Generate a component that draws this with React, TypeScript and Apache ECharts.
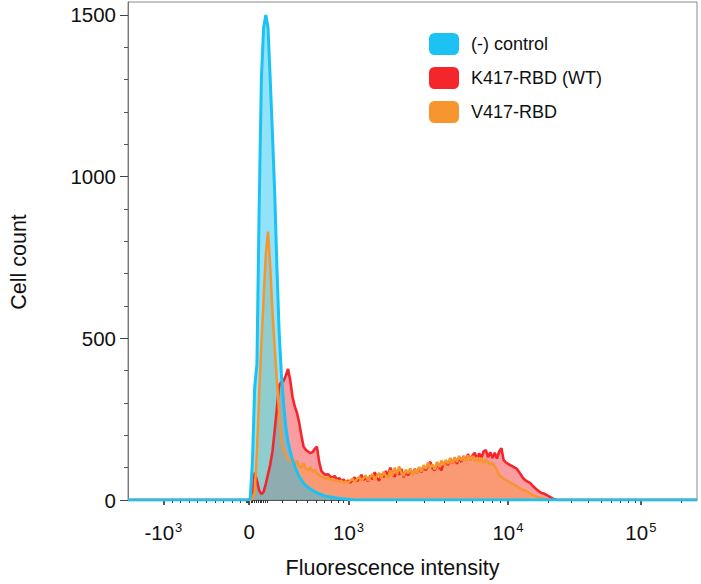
import React, { useEffect, useRef } from "react";
import * as echarts from "echarts";

// ---- Data: histogram counts per display channel (256 channels across the x range) ----
const CHANNEL_MAX = 256;

const CONTROL_START = 54;
const CONTROL_COUNTS = [
  0, 5, 120, 350, 420, 900, 1300, 1460, 1500, 1460, 1300, 1130, 950, 720, 520, 390, 300, 225, 180, 150,
  125, 105, 88, 72, 62, 52, 45, 40, 34, 30, 26, 22, 20, 17, 14, 12, 11, 9, 9, 7,
  6, 5, 4, 3, 3, 2, 1, 1, 0,
];

const K417_START = 54;
const K417_COUNTS = [
  0, 0, 20, 85, 60, 30, 18, 25, 50, 80,
  110, 150, 215, 285, 355, 365, 368, 385, 405, 370,
  320, 290, 270, 240, 200, 165, 155, 150, 145, 148,
  158, 165, 118, 90, 82, 78, 80, 72, 70, 74,
  64, 68, 60, 63, 56, 60, 54, 62, 70, 58,
  66, 78, 62, 70, 58, 76, 64, 86, 68, 60,
  80, 70, 90, 74, 100, 80, 72, 92, 78, 96,
  70, 88, 76, 92, 80, 96, 84, 100, 86, 104,
  92, 110, 118, 98, 92, 112, 100, 92, 114, 118,
  108, 128, 114, 130, 112, 132, 118, 136, 122, 142,
  124, 138, 146, 126, 144, 130, 150, 154, 132, 148,
  130, 146, 128, 150, 160, 124, 116, 112, 108, 104,
  100, 96, 86, 76, 66, 60, 56, 52, 44, 38,
  32, 26, 22, 20, 17, 13, 9, 5, 2, 0,
];

const V417_START = 54;
const V417_COUNTS = [
  0, 0, 5, 25, 150, 320, 480, 620, 760, 830,
  720, 580, 470, 370, 270, 185, 155, 140, 125, 122,
  118, 108, 122, 104, 100, 114, 96, 92, 102, 86,
  94, 82, 78, 70, 72, 66, 70, 62, 66, 58,
  62, 56, 60, 52, 58, 54, 60, 66, 56, 64,
  72, 60, 68, 76, 60, 72, 80, 62, 74, 84,
  66, 88, 74, 70, 92, 76, 100, 80, 104, 84,
  74, 94, 82, 98, 76, 94, 84, 102, 88, 108,
  96, 116, 100, 110, 94, 118, 102, 122, 108, 124,
  112, 130, 114, 132, 118, 136, 122, 134, 120, 138,
  124, 136, 120, 132, 118, 130, 114, 126, 118, 110,
  114, 104, 94, 76, 72, 66, 62, 58, 54, 50,
  46, 42, 38, 34, 30, 28, 24, 20, 16, 13,
  10, 8, 6, 4, 3, 1, 0,
];

const SERIES_NAMES = ["(-) control", "K417-RBD (WT)", "V417-RBD"];

// x tick values (fluorescence) and their labels [base, exponent]
const X_MAJOR_VALUES = [-1000, 0, 1000, 10000, 100000];
const X_MAJOR_LABELS: [string, string][] = [
  ["-10", "3"],
  ["0", ""],
  ["10", "3"],
  ["10", "4"],
  ["10", "5"],
];
const X_MINOR_VALUES = [
  -900, -800, -700, -600, -500, -400, -300, -200, -100, -30, -20, -10,
  10, 20, 30, 40, 50, 60, 70, 80, 90,
  100, 200, 300, 400, 500, 600, 700, 800, 900,
  2000, 3000, 4000, 5000, 6000, 7000, 8000, 9000,
  20000, 30000, 40000, 50000, 60000, 70000, 80000, 90000,
  200000,
];

const Y_MAJOR_VALUES = [0, 500, 1000, 1500];
const Y_MINOR_VALUES = [100, 200, 300, 400, 600, 700, 800, 900, 1100, 1200, 1300, 1400];
const Y_MAX = 1540;

// ---- Biexponential-like display transform: fluorescence -> channel ----
const CH_NEG = 15.94; // channel of -10^3
const CH_ZERO = 54.48; // channel of 0
const CH_E3 = 99.21; // channel of 10^3
const CH_E4 = 170.96; // channel of 10^4
const CH_DECADE_HI = 59.79; // channels per decade above 10^4
const LIN_WIDTH = 275;

function toChannel(v: number): number {
  if (v <= 0) return CH_ZERO + (v / 1000) * (CH_ZERO - CH_NEG);
  if (v <= 1000) return CH_ZERO + ((CH_E3 - CH_ZERO) * Math.asinh(v / LIN_WIDTH)) / Math.asinh(1000 / LIN_WIDTH);
  if (v <= 10000) return CH_E3 + (CH_E4 - CH_E3) * Math.log10(v / 1000);
  return CH_E4 + CH_DECADE_HI * Math.log10(v / 10000);
}

function buildSeries(start: number, counts: number[]): [number, number][] {
  const out: [number, number][] = [];
  for (let c = 0; c <= CHANNEL_MAX; c++) {
    const i = c - start;
    out.push([c, i >= 0 && i < counts.length ? counts[i] : 0]);
  }
  return out;
}

const FONT = "'Liberation Sans', Arial, Helvetica, sans-serif";
const COLORS = {
  control: "#1cc2f2",
  k417: "#f4262c",
  v417: "#f7952e",
};

export default function App() {
  const ref = useRef<HTMLDivElement>(null);

  useEffect(() => {
    if (!ref.current) return;
    const chart = echarts.init(ref.current, undefined, { renderer: "svg" });
    const majorCh = X_MAJOR_VALUES.map(toChannel);
    const minorCh = X_MINOR_VALUES.map(toChannel);

    const xLabelFormatter = (val: number) => {
      let best = 0;
      let bd = Infinity;
      majorCh.forEach((c, i) => {
        const d = Math.abs(c - val);
        if (d < bd) {
          bd = d;
          best = i;
        }
      });
      const [b, e] = X_MAJOR_LABELS[best];
      return e ? `{n|${b}}{s|${e}}` : `{n|${b}}`;
    };

    const lineSeries = (
      name: string,
      color: string,
      data: [number, number][],
      fillOpacity: number,
      width: number
    ) => ({
      name,
      type: "line",
      data,
      xAxisIndex: 0,
      yAxisIndex: 0,
      showSymbol: false,
      symbol: "none",
      smooth: false,
      lineStyle: { color, width },
      itemStyle: { color },
      areaStyle: { color, opacity: fillOpacity },
      emphasis: { disabled: true },
      silent: true,
    });

    chart.setOption({
      animation: false,
      grid: {
        left: 119,
        right: 4,
        top: 2,
        bottom: 74.5,
        show: true,
        borderColor: "#8a8a8a",
        borderWidth: 1,
        backgroundColor: "transparent",
      },
      legend: {
        orient: "vertical",
        left: 424,
        top: 28,
        itemWidth: 30,
        itemHeight: 22,
        itemGap: 12,
        icon: "roundRect",
        selectedMode: false,
        itemStyle: { borderWidth: 0 },
        textStyle: { fontSize: 18, color: "#111", fontFamily: FONT, padding: [0, 0, 0, 7] },
        data: SERIES_NAMES,
      },
      xAxis: [
        {
          type: "value",
          min: 0,
          max: CHANNEL_MAX,
          position: "bottom",
          name: "Fluorescence intensity",
          nameLocation: "middle",
          nameGap: 57,
          nameTextStyle: { fontSize: 21.5, color: "#111", fontFamily: FONT, padding: [0, 40, 0, 0] },
          axisLine: { show: true, lineStyle: { color: "#555", width: 1 } },
          axisTick: { show: true, customValues: majorCh, length: 5, lineStyle: { color: "#222", width: 1.5 } },
          axisLabel: {
            show: true,
            customValues: majorCh,
            margin: 21,
            formatter: xLabelFormatter,
            rich: {
              n: { fontSize: 20.5, color: "#111", fontFamily: FONT },
              s: { fontSize: 13, color: "#111", fontFamily: FONT, verticalAlign: "top", padding: [0, 0, 10, 1] },
            },
          },
          splitLine: { show: false },
        },
        {
          type: "value",
          min: 0,
          max: CHANNEL_MAX,
          position: "bottom",
          axisLine: { show: false },
          axisTick: { show: true, customValues: minorCh, length: 3, lineStyle: { color: "#333", width: 1 } },
          axisLabel: { show: false },
          splitLine: { show: false },
        },
      ],
      yAxis: [
        {
          type: "value",
          min: 0,
          max: Y_MAX,
          position: "left",
          name: "Cell count",
          nameLocation: "middle",
          nameRotate: 90,
          nameGap: 98,
          nameTextStyle: { fontSize: 21.5, color: "#111", fontFamily: FONT, padding: [0, 22, 0, 0] },
          axisLine: { show: true, lineStyle: { color: "#777", width: 1 } },
          axisTick: { show: true, customValues: Y_MAJOR_VALUES, length: 8, lineStyle: { color: "#444", width: 1 } },
          axisLabel: {
            show: true,
            customValues: Y_MAJOR_VALUES,
            margin: 12,
            fontSize: 20.5,
            color: "#111",
            fontFamily: FONT,
            formatter: (v: number) => String(Math.round(v)),
          },
          splitLine: { show: false },
        },
        {
          type: "value",
          min: 0,
          max: Y_MAX,
          position: "left",
          axisLine: { show: false },
          axisTick: { show: true, customValues: Y_MINOR_VALUES, length: 4, lineStyle: { color: "#555", width: 1 } },
          axisLabel: { show: false },
          splitLine: { show: false },
        },
      ],
      series: [
        lineSeries(SERIES_NAMES[1], COLORS.k417, buildSeries(K417_START, K417_COUNTS), 0.45, 2.6),
        lineSeries(SERIES_NAMES[2], COLORS.v417, buildSeries(V417_START, V417_COUNTS), 0.38, 2.5),
        lineSeries(SERIES_NAMES[0], COLORS.control, buildSeries(CONTROL_START, CONTROL_COUNTS), 0.48, 3),
      ],
    });

    return () => chart.dispose();
  }, []);

  return (
    <div
      ref={ref}
      style={{ position: "fixed", left: 0, top: 0, width: 701, height: 584, background: "#fff" }}
    />
  );
}
